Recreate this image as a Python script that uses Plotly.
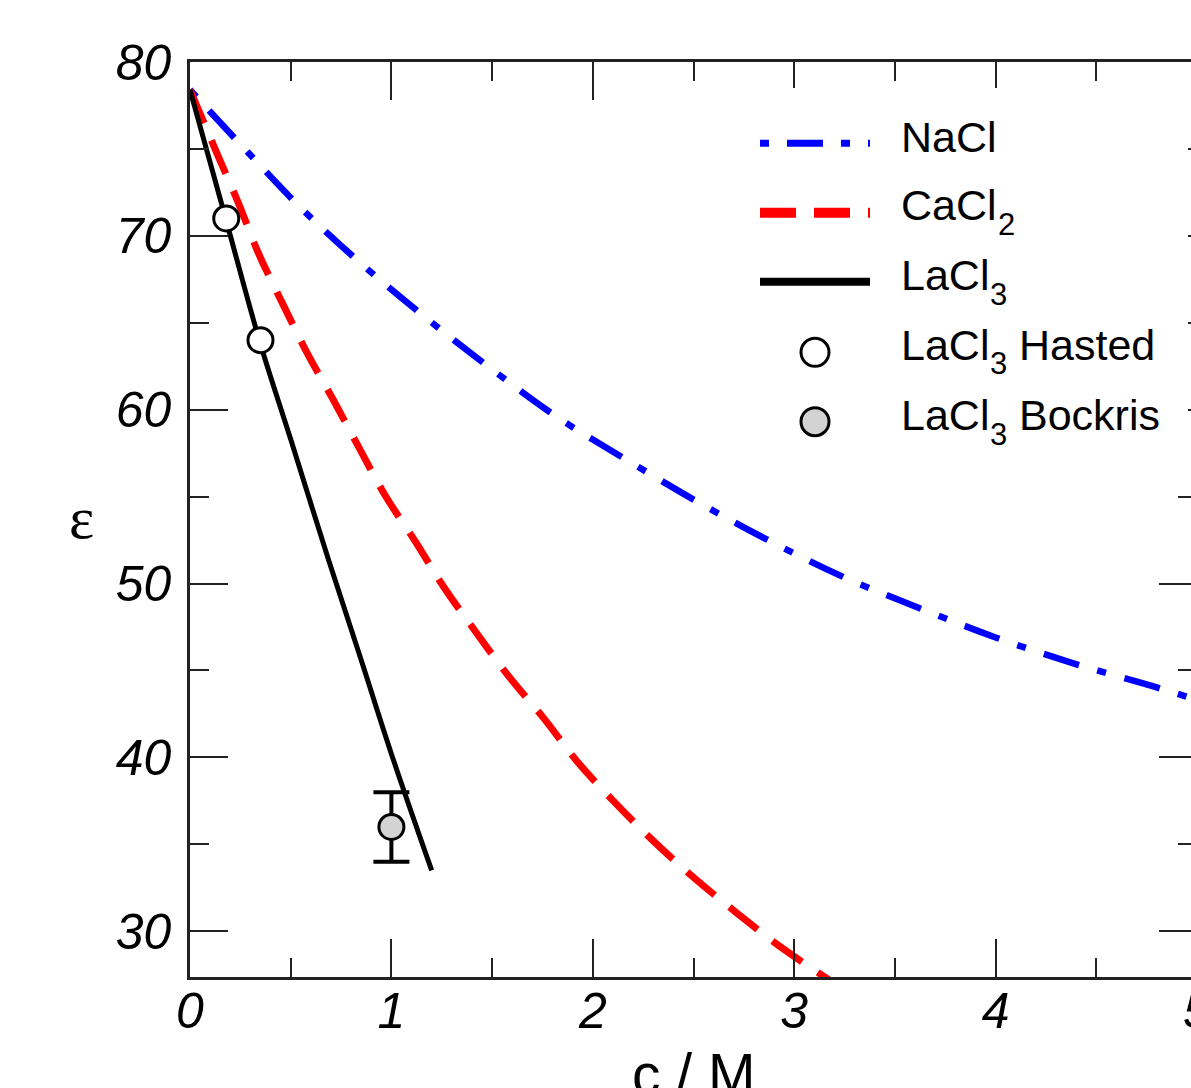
import plotly.graph_objects as go

# ---------------- data ----------------
nacl_c = [0, 0.28, 0.56, 0.86, 1.17, 1.49, 1.82, 2.17, 2.52, 2.87, 3.24, 3.62, 4.0, 4.39, 4.78, 5.0]
nacl_eps = [78.4, 74.9, 71.5, 68.3, 65.3, 62.4, 59.6, 57.1, 54.7, 52.5, 50.4, 48.6, 46.9, 45.4, 44.1, 43.3]

cacl2_c = [0, 0.13, 0.24, 0.34, 0.46, 0.58, 0.71, 0.84, 0.97, 1.12, 1.26, 1.42, 1.58, 1.76, 1.92, 2.11, 2.30, 2.50, 2.71, 2.92, 3.2]
cacl2_eps = [78.4, 74.85, 71.9, 69.0, 66.1, 63.3, 60.6, 57.8, 55.05, 52.4, 49.8, 47.2, 44.7, 42.2, 39.8, 37.4, 35.2, 33.1, 31.1, 29.2, 27.0]

lacl3_c = [0, 0.177, 0.344, 0.5, 0.687, 0.85, 1.0, 1.2]
lacl3_eps = [78.4, 71.0, 64.0, 58.3, 51.4, 45.6, 40.2, 33.5]

hasted_c = [0.18, 0.35]
hasted_eps = [71.0, 64.0]

bockris_c = [1.0]
bockris_eps = [36.0]
bockris_err = [2.0]

# legend text: (main part, subscript, suffix)
legend_main = ["NaCl", "CaCl", "LaCl", "LaCl", "LaCl"]
legend_sub = ["", "2", "3", "3", "3"]
legend_suffix = ["", "", "", "Hasted", "Bockris"]

x_title = "c / M"
y_title = "ε"

# ---------------- layout geometry ----------------
W, H = 1240, 1088
PL, PR, PT, PB = 190, 1197, 62, 977   # plot area in pixels


def px(x):
    return (x - PL) / (PR - PL)


def py(y):
    return (PB - y) / (PB - PT)


# Arial / Liberation Sans advance widths (em) for the legend glyphs
ADV = {"N": 0.722, "a": 0.556, "C": 0.722, "l": 0.222, "L": 0.556}


def text_width(s, size):
    return sum(ADV.get(ch, 0.55) for ch in s) * size


FONT = "Liberation Sans, Arial"
LEG_SIZE = 43
SUB_SIZE = 31

fig = go.Figure()
fig.add_trace(go.Scatter(x=nacl_c, y=nacl_eps, mode="lines", line_shape="spline",
                         line=dict(color="#0000ff", width=6.5, dash="9px,19px,37px,19px"),
                         showlegend=False))
fig.add_trace(go.Scatter(x=cacl2_c, y=cacl2_eps, mode="lines", line_shape="spline",
                         line=dict(color="#ff0000", width=7, dash="36px,19px"),
                         showlegend=False))
fig.add_trace(go.Scatter(x=lacl3_c, y=lacl3_eps, mode="lines", line_shape="spline",
                         line=dict(color="black", width=5), showlegend=False))
fig.add_trace(go.Scatter(x=hasted_c, y=hasted_eps, mode="markers",
                         marker=dict(size=25, color="white", line=dict(color="black", width=3)),
                         showlegend=False))
fig.add_trace(go.Scatter(x=bockris_c, y=bockris_eps, mode="markers",
                         error_y=dict(type="data", array=bockris_err, visible=True,
                                      color="black", thickness=4, width=18),
                         marker=dict(size=25, color="#d3d3d3", line=dict(color="black", width=3)),
                         showlegend=False))

shapes = []
# white legend background (covers right-hand ticks like the reference)
shapes.append(dict(type="rect", xref="paper", yref="paper", layer="above",
                   x0=px(745), x1=px(1188), y0=py(455), y1=py(88),
                   fillcolor="white", line=dict(width=0)))
row_y = [143.3, 212.7, 281.7, 352.3, 421.7]
text_y = [137, 205, 275, 345, 415]
shapes.append(dict(type="line", xref="paper", yref="paper", layer="above",
                   x0=px(760), x1=px(870), y0=py(row_y[0]), y1=py(row_y[0]),
                   line=dict(color="#0000ff", width=7, dash="9px,18px,36px,18px")))
shapes.append(dict(type="line", xref="paper", yref="paper", layer="above",
                   x0=px(760), x1=px(870), y0=py(row_y[1]), y1=py(row_y[1]),
                   line=dict(color="#ff0000", width=10, dash="36px,18px")))
shapes.append(dict(type="line", xref="paper", yref="paper", layer="above",
                   x0=px(760), x1=px(870), y0=py(row_y[2]), y1=py(row_y[2]),
                   line=dict(color="black", width=8)))
for yy, fc in [(row_y[3], "white"), (row_y[4], "#d3d3d3")]:
    shapes.append(dict(type="circle", xref="paper", yref="paper", layer="above",
                       xsizemode="pixel", ysizemode="pixel",
                       xanchor=px(815), yanchor=py(yy), x0=-14, x1=14, y0=-14, y1=14,
                       fillcolor=fc, line=dict(color="black", width=3)))

annotations = []
TX = 899
for main, sub, suf, ty in zip(legend_main, legend_sub, legend_suffix, text_y):
    annotations.append(dict(text=main, xref="paper", yref="paper", x=px(TX), y=py(ty),
                            xanchor="left", yanchor="middle", showarrow=False,
                            font=dict(family=FONT, size=LEG_SIZE, color="black")))
    if sub:
        sx = TX + text_width(main, LEG_SIZE) + 1
        annotations.append(dict(text=sub, xref="paper", yref="paper", x=px(sx), y=py(ty + 19),
                                xanchor="left", yanchor="middle", showarrow=False,
                                font=dict(family=FONT, size=SUB_SIZE, color="black")))
        if suf:
            fx = sx + 0.556 * SUB_SIZE + 0.278 * LEG_SIZE - 1
            annotations.append(dict(text=suf, xref="paper", yref="paper", x=px(fx), y=py(ty),
                                    xanchor="left", yanchor="middle", showarrow=False,
                                    font=dict(family=FONT, size=LEG_SIZE, color="black")))

annotations.append(dict(text=x_title, xref="paper", yref="paper", x=px(694), y=py(1040),
                        xanchor="center", yanchor="top", showarrow=False,
                        font=dict(family=FONT, size=57, color="black")))
annotations.append(dict(text=y_title, xref="paper", yref="paper", x=px(81), y=py(518),
                        xanchor="center", yanchor="middle", showarrow=False,
                        font=dict(family="Liberation Serif, Times New Roman", size=60, color="black")))

axis_common = dict(showgrid=False, zeroline=False, showline=True, linecolor="#222",
                   linewidth=2.5, mirror="ticks", ticks="inside", ticklen=38, tickwidth=2,
                   tickcolor="#222",
                   tickfont=dict(family=FONT, size=50, color="black", style="italic"))

fig.update_layout(
    width=W, height=H,
    margin=dict(l=PL, r=W - PR, t=PT, b=H - PB),
    paper_bgcolor="white", plot_bgcolor="white",
    shapes=shapes, annotations=annotations, showlegend=False,
    xaxis=dict(range=[0, 5], dtick=1, tick0=0,
               minor=dict(ticks="inside", ticklen=19, tickwidth=2, tickcolor="#222", dtick=0.5),
               ticklabelstandoff=-12, **axis_common),
    yaxis=dict(range=[27.37, 80], dtick=10, tick0=0,
               minor=dict(ticks="inside", ticklen=19, tickwidth=2, tickcolor="#222", dtick=5),
               ticklabelstandoff=6, **axis_common),
)

fig.write_html("out.html", config={"displayModeBar": False},
               post_script="document.body.style.margin='0';document.body.style.overflow='hidden';")
